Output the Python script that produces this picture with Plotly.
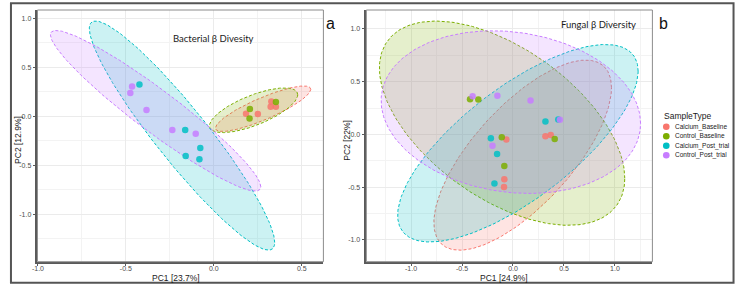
import numpy as np
import plotly.graph_objects as go

W_PX, H_PX = 738, 288

groups = ["Calcium_Baseline", "Control_Baseline", "Calcium_Post_trial", "Control_Post_trial"]
colors = ["#F8766D", "#7CAE00", "#00BFC4", "#C77CFF"]

# ---- Bacterial beta diversity (PCoA) ----
bac_cab_x = [0.183, 0.250, 0.323, 0.327, 0.353]
bac_cab_y = [0.025, 0.022, 0.097, 0.151, 0.097]
bac_cob_x = [0.205, 0.203, 0.353]
bac_cob_y = [0.073, -0.022, 0.145]
bac_cap_x = [-0.423, -0.163, -0.077, -0.160, -0.082]
bac_cap_y = [0.325, -0.141, -0.325, -0.407, -0.438]
bac_cop_x = [-0.465, -0.475, -0.383, -0.236, -0.103]
bac_cop_y = [0.305, 0.237, 0.063, -0.141, -0.179]

# ellipse (centre, half-width, half-height, correlation), group order
bac_ell_cx = [0.280, 0.226, -0.181, -0.331]
bac_ell_cy = [0.077, 0.061, -0.197, 0.056]
bac_ell_w = [0.271, 0.251, 0.527, 0.598]
bac_ell_h = [0.232, 0.228, 1.170, 0.820]
bac_ell_rho = [0.852, 0.697, -0.933, -0.946]

# ---- Fungal beta diversity (PCoA) ----
fun_cab_x = [0.318, 0.370, -0.065, -0.085, -0.088]
fun_cab_y = [-0.016, -0.004, -0.047, -0.424, -0.497]
fun_cob_x = [-0.421, -0.340, 0.409, -0.110, -0.085]
fun_cob_y = [0.335, 0.332, -0.042, -0.026, -0.298]
fun_cap_x = [0.318, 0.444, -0.217, -0.156, -0.182]
fun_cap_y = [0.123, 0.142, -0.035, -0.184, -0.465]
fun_cop_x = [-0.396, -0.153, 0.172, 0.460, -0.201]
fun_cop_y = [0.363, 0.366, 0.322, 0.140, -0.108]

fun_ell_cx = [0.095, -0.107, 0.048, -0.021]
fun_ell_cy = [-0.196, 0.107, -0.083, 0.212]
fun_ell_w = [0.871, 1.203, 1.179, 1.272]
fun_ell_h = [0.901, 0.968, 0.936, 0.771]
fun_ell_rho = [0.71, -0.54, 0.73, -0.14]

x_ticks = [-1.0, -0.5, 0.0, 0.5, 1.0]
y_ticks = [-1.0, -0.5, 0.0, 0.5, 1.0]
tick_text = ["-1.0", "-0.5", "0.0", "0.5", "1.0"]


def rgba(hexc, a):
    h = hexc.lstrip("#")
    return "rgba(%d,%d,%d,%s)" % (int(h[0:2], 16), int(h[2:4], 16), int(h[4:6], 16), a)


def ellipse(cx, cy, w, h, rho, n=240):
    t = np.linspace(0, 2 * np.pi, n)
    x = cx + w * np.cos(t)
    y = cy + h * (rho * np.cos(t) + np.sqrt(1 - rho ** 2) * np.sin(t))
    return x, y


fig = go.Figure()

panels = [
    ("x", "y", (bac_ell_cx, bac_ell_cy, bac_ell_w, bac_ell_h, bac_ell_rho),
     [(bac_cab_x, bac_cab_y), (bac_cob_x, bac_cob_y), (bac_cap_x, bac_cap_y), (bac_cop_x, bac_cop_y)]),
    ("x2", "y2", (fun_ell_cx, fun_ell_cy, fun_ell_w, fun_ell_h, fun_ell_rho),
     [(fun_cab_x, fun_cab_y), (fun_cob_x, fun_cob_y), (fun_cap_x, fun_cap_y), (fun_cop_x, fun_cop_y)]),
]

for xa, ya, ell, pts in panels:
    for i, g in enumerate(groups):
        ex, ey = ellipse(ell[0][i], ell[1][i], ell[2][i], ell[3][i], ell[4][i])
        fig.add_trace(go.Scatter(
            x=ex, y=ey, xaxis=xa, yaxis=ya, mode="lines", fill="toself",
            fillcolor=rgba(colors[i], 0.2),
            line=dict(color=colors[i], width=1, dash="3px,2px"),
            hoverinfo="skip", showlegend=False))
    for i, g in enumerate(groups):
        fig.add_trace(go.Scatter(
            x=pts[i][0], y=pts[i][1], xaxis=xa, yaxis=ya, mode="markers", name=g,
            marker=dict(color=colors[i], size=6.5, opacity=0.85, line=dict(width=0)),
            showlegend=False))

def px_x(p):
    return p / W_PX

def px_y(p):
    return 1 - p / H_PX

font_tick = dict(family="Liberation Sans, Arial, sans-serif", size=7, color="#4D4D4D")
axis_common = dict(
    showgrid=True, gridcolor="#EBEBEB", gridwidth=0.8,
    zeroline=False, showline=True, linecolor="#5A5A5A", linewidth=1.5,
    ticks="outside", ticklen=3, tickwidth=1, tickcolor="#5A5A5A",
    tickfont=font_tick, tickvals=x_ticks, ticktext=tick_text,
    minor=dict(showgrid=True, gridcolor="#F3F3F3", gridwidth=0.5, dtick=0.25, tick0=0),
)

y_dom = [px_y(261.7), px_y(10)]
fig.update_layout(
    width=W_PX, height=H_PX, margin=dict(l=0, r=0, t=0, b=0),
    paper_bgcolor="white", plot_bgcolor="white",
    xaxis=dict(domain=[px_x(31.7), px_x(320)], range=[-1.003, 0.623], anchor="y",
               ticklabelstandoff=-4, **axis_common),
    yaxis=dict(domain=y_dom, range=[-1.485, 1.085], anchor="x", **axis_common),
    xaxis2=dict(domain=[px_x(363.3), px_x(651.7)], range=[-1.438, 1.367], anchor="y2",
                ticklabelstandoff=-4, **axis_common),
    yaxis2=dict(domain=y_dom, range=[-1.206, 1.18], anchor="x2", **axis_common),
)

shapes = []
for xr, yr in [("x domain", "y domain"), ("x2 domain", "y2 domain")]:
    shapes.append(dict(type="rect", xref=xr, yref=yr, x0=0, x1=1, y0=0, y1=1,
                       line=dict(color="#8C8C8C", width=1), layer="above"))
# outer frame
shapes.append(dict(type="rect", xref="paper", yref="paper",
                   x0=px_x(5), x1=px_x(733.5), y0=px_y(282.7), y1=px_y(3.3),
                   line=dict(color="#555555", width=2)))

annotations = []
title_font = dict(family="Liberation Sans, Arial, sans-serif", size=8.5, color="#1A1A1A")
annotations.append(dict(text="PC1 [23.7%]", x=px_x(171.3), y=px_y(277.5), xref="paper", yref="paper",
                        showarrow=False, font=title_font, xanchor="center", yanchor="middle"))
annotations.append(dict(text="PC1 [24.9%]", x=px_x(502), y=px_y(277.5), xref="paper", yref="paper",
                        showarrow=False, font=title_font, xanchor="center", yanchor="middle"))
annotations.append(dict(text="PC2 [12.9%]", x=px_x(12), y=px_y(140), xref="paper", yref="paper",
                        showarrow=False, font=title_font, textangle=-90, xanchor="center", yanchor="middle"))
annotations.append(dict(text="PC2 [22%]", x=px_x(343.5), y=px_y(140), xref="paper", yref="paper",
                        showarrow=False, font=title_font, textangle=-90, xanchor="center", yanchor="middle"))

label_font = dict(family="Lato, Open Sans, sans-serif", size=9.5, color="#1A1A1A")
annotations.append(dict(text="Bacterial β Divesity", x=px_x(209.5), y=px_y(39), xref="paper", yref="paper",
                        showarrow=False, font=label_font, xanchor="center", yanchor="middle"))
annotations.append(dict(text="Fungal β Diversity", x=px_x(597.5), y=px_y(24), xref="paper", yref="paper",
                        showarrow=False, font=label_font, xanchor="center", yanchor="middle"))

panel_font = dict(family="Liberation Sans, Arial, sans-serif", size=16, color="#111111")
annotations.append(dict(text="a", x=px_x(327.5), y=px_y(23), xref="paper", yref="paper",
                        showarrow=False, font=panel_font, xanchor="center", yanchor="middle"))
annotations.append(dict(text="b", x=px_x(663), y=px_y(23), xref="paper", yref="paper",
                        showarrow=False, font=panel_font, xanchor="center", yanchor="middle"))

# legend (drawn manually for compact spacing)
annotations.append(dict(text="SampleType", x=px_x(661), y=px_y(116), xref="paper", yref="paper",
                        showarrow=False, font=dict(family="Liberation Sans, Arial, sans-serif", size=8.5, color="#1A1A1A"),
                        xanchor="left", yanchor="middle"))
leg_rows = [126.7, 136.3, 145.8, 155.3]
for i, g in enumerate(groups):
    shapes.append(dict(type="circle", xref="paper", yref="paper", xsizemode="pixel", ysizemode="pixel",
                       xanchor=px_x(665.7), yanchor=px_y(leg_rows[i]), x0=-3.3, x1=3.3, y0=-3.3, y1=3.3,
                       fillcolor=colors[i], line=dict(width=0)))
    annotations.append(dict(text=g, x=px_x(672.5), y=px_y(leg_rows[i]), xref="paper", yref="paper",
                            showarrow=False, font=dict(family="Liberation Sans, Arial, sans-serif", size=6.5, color="#1A1A1A"),
                            xanchor="left", yanchor="middle"))

fig.update_layout(shapes=shapes, annotations=annotations)
fig.write_html("out.html")
